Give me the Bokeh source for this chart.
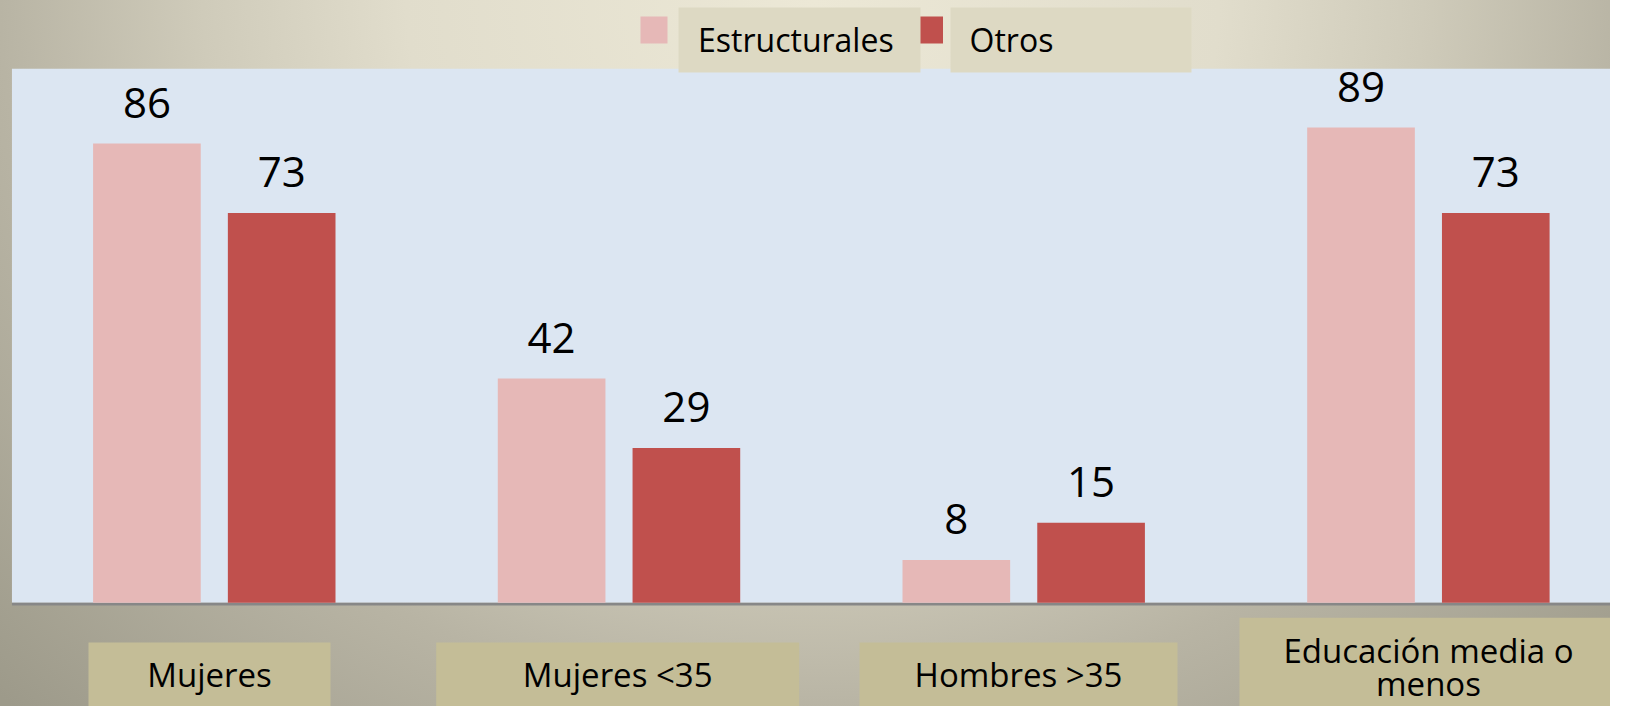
import numpy as np
from bokeh.plotting import figure
from bokeh.models import Range1d
from bokeh.core.properties import value
from bokeh.embed import file_html
from bokeh.resources import INLINE

# ---------------- data ----------------
categories = ["Mujeres", "Mujeres <35", "Hombres >35", "Educación media o menos"]
category_lines = [["Mujeres"], ["Mujeres <35"], ["Hombres >35"], ["Educación media o", "menos"]]
series_names = ["Estructurales", "Otros"]
estructurales = [86, 42, 8, 89]
otros = [73, 29, 15, 73]
y_max = 100

# ---------------- styles / layout ----------------
COL_EST = "#e6b8b7"
COL_OTR = "#c0504d"
COL_PLOT = "#dce6f2"
COL_LEG_BOX = "#ddd9c3"
COL_LAB_BOX = "#c4bd97"
COL_AXIS = "#878787"
FONT = "Open Sans"

W, H = 1610, 706
X0_PX = 11.45      # x of first category's left edge
CAT_PX = 404.7     # pixels per category
Y0_PX = 602.3      # y of value 0
UNIT_PX = 5.34     # pixels per value unit
BASE_FIX = 0.4     # empirical baseline correction (fraction of font size)


def px2x(px):
    return (px - X0_PX) / CAT_PX


def px2y(py):
    return (Y0_PX - py) / UNIT_PX


p = figure(
    width=W, height=H,
    x_range=Range1d(px2x(0), px2x(W)),
    y_range=Range1d(px2y(H), px2y(0)),
    x_axis_type=None, y_axis_type=None,
    output_backend="svg", toolbar_location=None,
    min_border=0, outline_line_color=None,
)
p.grid.visible = False
p.background_fill_alpha = 0
p.border_fill_alpha = 0
p.styles = {
    "background": "radial-gradient(ellipse 813px 710px at 813px 0px, "
                  "#ece8d6 0%, #e1ddcc 50%, #cfcbba 75%, #b8b4a4 100%, #9d9a8a 140%)"
}

n = len(categories)
idx = np.arange(n)

# plot area
p.quad(left=0, right=n, bottom=0, top=y_max, fill_color=COL_PLOT, line_color=None)
# axis line
p.quad(left=0, right=n, top=0, bottom=px2y(Y0_PX + 2.8), fill_color=COL_AXIS, line_color=None)

# bars
dodge = 0.1665
bw = 0.266
x_est = idx + 0.5 - dodge
x_otr = idx + 0.5 + dodge
p.vbar(x=x_est, top=estructurales, bottom=0, width=bw, fill_color=COL_EST, line_color=None)
p.vbar(x=x_otr, top=otros, bottom=0, width=bw, fill_color=COL_OTR, line_color=None)

# value labels
NUM_SIZE = 42
for xs, vals in ((x_est, estructurales), (x_otr, otros)):
    p.text(x=xs, y=vals, text=[str(v) for v in vals], text_align="center",
           text_baseline="alphabetic", y_offset=-24 - BASE_FIX * NUM_SIZE,
           text_font=value(FONT), text_font_size=f"{NUM_SIZE}px", text_color="#000000")

# legend (squares, then label boxes on top)
LEG_SIZE = 32
leg_sq = [(640, 667, 16, 43), (915.5, 942.5, 16, 43)]
leg_box = [(678, 920, 7, 72), (950, 1191, 7, 72)]
leg_text_x = [697.5, 969]
for (l, r, t, b), c in zip(leg_sq, [COL_EST, COL_OTR]):
    p.quad(left=px2x(l), right=px2x(r), top=px2y(t), bottom=px2y(b), fill_color=c, line_color=None)
for (l, r, t, b) in leg_box:
    p.quad(left=px2x(l), right=px2x(r), top=px2y(t), bottom=px2y(b), fill_color=COL_LEG_BOX, line_color=None)
p.text(x=[px2x(v) for v in leg_text_x], y=[px2y(52 - BASE_FIX * LEG_SIZE)] * 2, text=series_names,
       text_align="left", text_baseline="alphabetic",
       text_font=value(FONT), text_font_size=f"{LEG_SIZE}px", text_color="#000000")

# category label boxes
LAB_SIZE = 33
lab_box = [(88, 330, 642, 707), (435.7, 798.7, 642, 707), (859, 1177, 642, 707), (1239, 1617, 617.3, 760)]
lab_baselines = [[687], [687], [687], [663, 696]]
for (l, r, t, b), lines, bls in zip(lab_box, category_lines, lab_baselines):
    p.quad(left=px2x(l), right=px2x(r), top=px2y(t), bottom=px2y(b), fill_color=COL_LAB_BOX, line_color=None)
    cx = px2x((l + r) / 2)
    p.text(x=[cx] * len(lines), y=[px2y(b_ - BASE_FIX * LAB_SIZE) for b_ in bls], text=lines,
           text_align="center", text_baseline="alphabetic",
           text_font=value(FONT), text_font_size=f"{LAB_SIZE}px", text_color="#000000")

open("out.html", "w").write(file_html(p, INLINE))
